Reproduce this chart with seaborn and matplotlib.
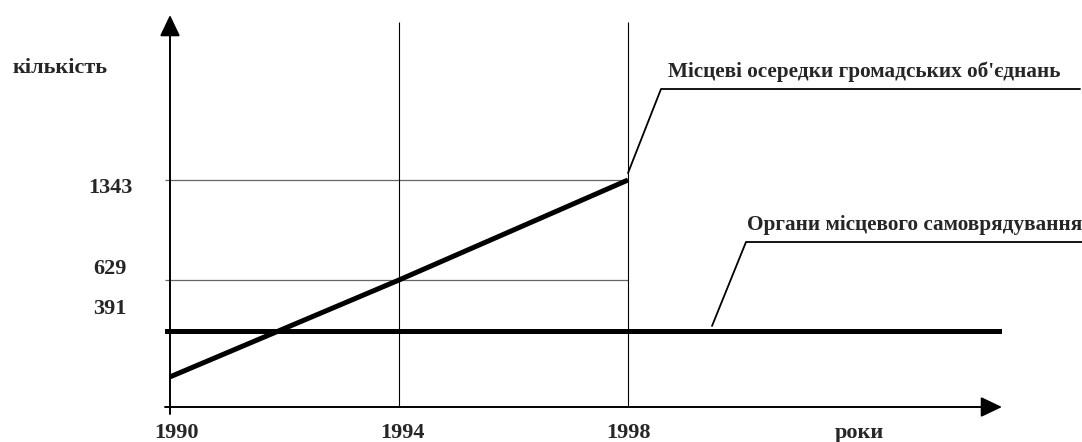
import numpy as np
import pandas as pd
import matplotlib
matplotlib.use("Agg")
import matplotlib.pyplot as plt
import matplotlib.transforms as mtransforms
import seaborn as sns

years = [1990, 1994, 1998]
local_cells = [155, 629, 1343]          # Місцеві осередки громадських об'єднань
self_gov_level = 391                     # Органи місцевого самоврядування
y_marks = [1343, 629, 391]
grid_years = [1994, 1998]
grid_levels = [1343, 629]

label_cells = "Місцеві осередки громадських об'єднань"
label_gov = "Органи місцевого самоврядування"

# the y axis in the original is schematic (not linear): piecewise mapping
LEV = np.array([-1000, 0, 391, 629, 1343, 5000], dtype=float)
POS = np.array([-1000 * 76 / 391, 0, 76, 127, 227, 227 + (5000 - 1343) * 100 / 714])


def fwd(v):
    return np.interp(v, LEV, POS)


def inv(p):
    return np.interp(p, POS, LEV)


def main() -> None:
    sns.set_style("white")
    plt.rcParams["font.family"] = ["Liberation Serif", "DejaVu Serif"]
    plt.rcParams["font.weight"] = "bold"

    fig = plt.figure(figsize=(10.82, 4.42), dpi=100)
    W, H = 1082, 442
    ax = fig.add_axes([165 / W, (H - 414) / H, (1002 - 165) / W, (414 - 15) / H])
    ax.set_yscale("function", functions=(fwd, inv))
    px_per_year = 57.25
    x0, x1 = 1990 - 5 / px_per_year, 1990 + 832 / px_per_year
    ax.set_xlim(x0, x1)
    ax.set_ylim(inv(-7), inv(392))
    for s in ax.spines.values():
        s.set_visible(False)
    ax.set_xticks([])
    ax.set_yticks([])

    # grid
    ax.hlines(grid_levels, x0, 1998, color="#666666", lw=0.9)
    ax.vlines(grid_years, 0, inv(385), color="black", lw=0.8)

    # series
    df = pd.DataFrame({"year": years, "value": local_cells})
    sns.lineplot(data=df, x="year", y="value", color="black", lw=3.6, ax=ax,
                 solid_capstyle="butt")
    ax.axhline(self_gov_level, color="black", lw=3.6)

    # axes with arrows
    arrow = dict(arrowstyle="-|>,head_length=1.3,head_width=0.62", color="black",
                 lw=1.4, shrinkA=0, shrinkB=0, mutation_scale=10)
    ax.annotate("", xy=(x1, 0), xytext=(x0, 0), arrowprops=arrow, annotation_clip=False)
    ax.annotate("", xy=(1990, inv(392)), xytext=(1990, inv(-7)), arrowprops=arrow,
                annotation_clip=False)

    # leader lines (pixel offsets from an anchor in data coords)
    def leader(anchor, pts):
        tr = mtransforms.Affine2D() + mtransforms.ScaledTranslation(
            anchor[0], anchor[1], ax.transData)
        xs, ys = zip(*pts)
        ax.plot(xs, ys, color="black", lw=1.3, transform=tr, clip_on=False)

    leader((1998, 1343), [(0, 7), (33, 91), (452, 91)])
    leader((1998, self_gov_level), [(84, 5), (118, 89), (460, 89)])

    ax.annotate(label_cells, xy=(1998, 1343), xytext=(40, 103),
                textcoords="offset pixels", ha="left", va="baseline",
                fontsize=15.3, fontweight="bold", annotation_clip=False)
    ax.annotate(label_gov, xy=(1998, self_gov_level), xytext=(119, 101),
                textcoords="offset pixels", ha="left", va="baseline",
                fontsize=15.3, fontweight="bold", annotation_clip=False)

    # y value labels
    y_offsets = {1343: -13, 629: 6, 391: 17}
    for v in y_marks:
        ax.annotate(str(v), xy=(1990, v), xytext=(-60, y_offsets[v]),
                    textcoords="offset pixels", ha="center", va="baseline",
                    fontsize=16, fontweight="bold", annotation_clip=False)

    # x year labels
    x_offsets = {1990: 6, 1994: 3, 1998: 0}
    for yr in years:
        ax.annotate(str(yr), xy=(yr, 0), xytext=(x_offsets[yr], -31),
                    textcoords="offset pixels", ha="center", va="baseline",
                    fontsize=16, fontweight="bold", annotation_clip=False)

    fig.text(60 / W, 1 - 73 / H, "кількість", ha="center", va="baseline",
             fontsize=16, fontweight="bold")
    fig.text(859 / W, 1 - 438 / H, "роки", ha="center", va="baseline",
             fontsize=16, fontweight="bold")

    fig.savefig("out.png", dpi=100)


if __name__ == "__main__":
    main()
